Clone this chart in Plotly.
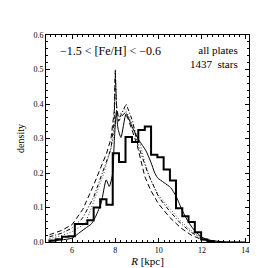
import plotly.graph_objects as go

# Histogram (thick step line): bin edges and densities
hist_edges = [4.96, 5.25, 5.54, 5.84, 6.13, 6.42, 6.71, 7.00, 7.30, 7.59, 7.88,
              8.17, 8.47, 8.77, 9.06, 9.36, 9.65, 9.94, 10.23, 10.52, 10.80,
              11.09, 11.38, 11.67, 11.96, 12.25, 12.54]
hist_vals = [0.004, 0.008, 0.015, 0.017, 0.052, 0.052, 0.063, 0.100, 0.124, 0.108,
             0.257, 0.232, 0.304, 0.290, 0.325, 0.335, 0.253, 0.246, 0.210, 0.178,
             0.098, 0.075, 0.058, 0.028, 0.007, 0.002]

# Thin solid model curve
solid_R = [4.96, 5.5, 6.0, 6.3, 6.6, 6.9, 7.1, 7.35, 7.58, 7.72, 7.88, 7.95, 8.05,
           8.12, 8.26, 8.5, 8.8, 9.1, 9.4, 9.65, 9.8, 9.95, 10.25, 10.55, 10.8,
           11.1, 11.4, 11.7, 12.0, 12.3, 12.6, 13.0, 14.0]
solid_d = [0.002, 0.006, 0.011, 0.025, 0.039, 0.053, 0.075, 0.114, 0.180, 0.161,
           0.200, 0.290, 0.378, 0.330, 0.303, 0.372, 0.330, 0.294, 0.266, 0.230,
           0.203, 0.186, 0.172, 0.158, 0.133, 0.090, 0.055, 0.030, 0.014, 0.006,
           0.003, 0.001, 0.0]

# Dashed curve
dash_R = [4.96, 5.5, 6.0, 6.5, 7.0, 7.35, 7.6, 7.8, 7.95, 8.0, 8.05, 8.15, 8.3,
          8.45, 8.6, 9.0, 9.36, 9.63, 10.0, 10.5, 11.0, 11.5, 12.0, 12.5, 13.0]
dash_d = [0.021, 0.033, 0.050, 0.095, 0.165, 0.222, 0.258, 0.300, 0.380, 0.490,
          0.400, 0.350, 0.365, 0.375, 0.355, 0.283, 0.190, 0.150, 0.110, 0.072,
          0.042, 0.020, 0.007, 0.002, 0.0]

# Dotted curve
dot_R = [4.96, 5.5, 6.0, 6.6, 6.9, 7.2, 7.5, 7.72, 7.9, 8.0, 8.2, 8.45, 8.8,
         9.15, 9.36, 9.63, 10.0, 10.5, 11.0, 11.5, 12.0, 12.5, 13.0]
dot_d = [0.010, 0.018, 0.030, 0.053, 0.100, 0.150, 0.205, 0.255, 0.300, 0.360,
         0.370, 0.385, 0.340, 0.283, 0.230, 0.180, 0.135, 0.097, 0.062, 0.033,
         0.012, 0.003, 0.0]

# Dash-dot curve
dd_R = [4.96, 5.5, 6.0, 6.5, 7.0, 7.5, 7.8, 7.95, 8.0, 8.06, 8.2, 8.5, 8.8,
        9.0, 9.5, 10.0, 10.5, 11.0, 11.5, 12.0, 12.5, 13.0]
dd_d = [0.015, 0.025, 0.040, 0.070, 0.130, 0.215, 0.270, 0.350, 0.500, 0.380,
        0.360, 0.400, 0.350, 0.290, 0.200, 0.130, 0.090, 0.055, 0.028, 0.010,
        0.002, 0.0]

x_ticks = [6, 8, 10, 12, 14]
y_ticks = [0.0, 0.1, 0.2, 0.3, 0.4, 0.5, 0.6]

SERIF = "Liberation Serif"

# step representation of histogram
hx = [hist_edges[0]]
hy = [0.0]
for i, v in enumerate(hist_vals):
    hx += [hist_edges[i], hist_edges[i + 1]]
    hy += [v, v]
hx.append(hist_edges[-1])
hy.append(0.0)

fig = go.Figure()
fig.add_trace(go.Scatter(x=dash_R, y=dash_d, mode="lines",
                         line=dict(color="black", width=1, dash="5px,3px")))
fig.add_trace(go.Scatter(x=dot_R, y=dot_d, mode="lines",
                         line=dict(color="#444444", width=1, dash="1px,2px")))
fig.add_trace(go.Scatter(x=dd_R, y=dd_d, mode="lines",
                         line=dict(color="black", width=1, dash="4px,2px,1px,2px")))
fig.add_trace(go.Scatter(x=solid_R, y=solid_d, mode="lines", line_shape="spline",
                         line=dict(color="black", width=1, smoothing=0.6)))
fig.add_trace(go.Scatter(x=hx, y=hy, mode="lines",
                         line=dict(color="black", width=2)))

axis_common = dict(
    showline=True, linecolor="black", linewidth=1, mirror="ticks",
    ticks="inside", ticklen=4, tickwidth=0.8, tickcolor="black",
    showgrid=False, zeroline=False,
    tickfont=dict(family=SERIF, size=8, color="black"),
)

fig.update_xaxes(range=[4.8, 14.17], tickvals=x_ticks,
                 ticktext=[str(t) for t in x_ticks],
                 minor=dict(dtick=0.25, tick0=0, ticks="inside", ticklen=2,
                            tickcolor="black"),
                 title=dict(text="<i>R</i> [kpc]", font=dict(family=SERIF, size=11,
                                                            color="black"),
                            standoff=2),
                 **axis_common)
fig.update_yaxes(range=[0, 0.6], tickvals=y_ticks,
                 ticktext=["%.1f" % t for t in y_ticks],
                 minor=dict(dtick=0.02, tick0=0, ticks="inside", ticklen=2,
                            tickcolor="black"),
                 title=dict(text="density", font=dict(family=SERIF, size=10,
                                                      color="black"),
                            standoff=6),
                 **axis_common)

fig.add_annotation(x=0.06, y=0.965, xref="paper", yref="paper",
                   xanchor="left", yanchor="top", showarrow=False,
                   text="\u22121.5 < [Fe/H] < \u22120.6",
                   font=dict(family=SERIF, size=12, color="black"))
fig.add_annotation(x=0.955, y=0.965, xref="paper", yref="paper",
                   xanchor="right", yanchor="top", showarrow=False, align="right",
                   text="all plates<br>1437  stars",
                   font=dict(family=SERIF, size=11, color="black"))

fig.update_layout(
    width=268, height=268,
    margin=dict(l=33, r=27, t=27, b=27),
    paper_bgcolor="white", plot_bgcolor="white",
    showlegend=False,
)

fig.write_html("out.html")
